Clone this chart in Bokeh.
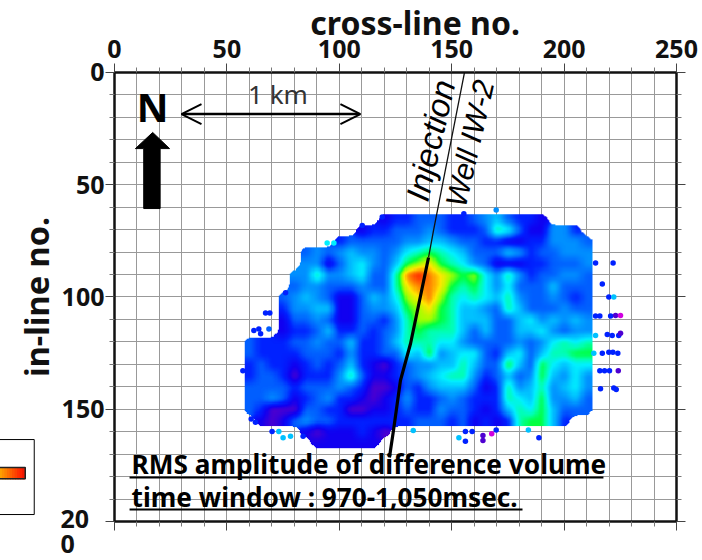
import numpy as np
from bokeh.plotting import figure
from bokeh.models import (LinearAxis, FixedTicker, Range1d, LinearColorMapper, Label, BoxAnnotation,
                          Arrow, OpenHead, ColumnDataSource, Grid)
from bokeh.core.properties import value
from bokeh.embed import file_html
from bokeh.resources import INLINE

FONT = "Noto Sans"
TICK_MAJOR = [0, 50, 100, 150, 200, 250]
TICK_MINOR = [10, 20, 30, 40, 60, 70, 80, 90, 110, 120, 130, 140, 160, 170, 180, 190, 210, 220, 230, 240]
TICK_MAJOR_Y = [0, 50, 100, 150, 200]
TICK_MINOR_Y = [10, 20, 30, 40, 60, 70, 80, 90, 110, 120, 130, 140, 160, 170, 180, 190]

# amplitude levels, one character per cross-line 50,55,...,225 ; rows are in-line 65,70,...,165
AMP_ROWS = [
    "..............122333223453221.......",
    "............12233343222376311442....",
    "..........23333344554332211224443...",
    ".......34345443467876533354233444...",
    ".......44135643589a87643111223334...",
    "......4474456337bcba9896474233443...",
    "......3443334337abba87864633" + "35333...",
    ".....345431135469ab97676574334323...",
    ".....2445511344589a87554375333433...",
    ".....1334311332479987555335645454...",
    ".....1223522323478777535335564344...",
    "..3222334335223577766433334346767...",
    "..3222233324223365845663256357788...",
    "..2322123235210234455753385386566...",
    "..2332022247311234567742353485464...",
    "..3333233343200132455531274574564...",
    "..3343123422101242234322276584453...",
    "..3200033220011232243321257685333...",
    "...1013433222222233323121278852.....",
    ".......10111210.....................",
    "........111111......................",
]
AMP_INLINES = [65, 70, 75, 80, 85, 90, 95, 100, 105, 110, 115, 120, 125, 130, 135, 140, 145, 150, 155, 160, 165]
AMP_CROSSLINE_FIRST = 50
AMP_CELL = 5

PALETTE_STOPS = ["#d000e0", "#4a00d0", "#1000f0", "#0020ff", "#0060ff", "#0090ff", "#00c0ff",
                 "#00f0ff", "#00ffb0", "#00ff40", "#a0ff00", "#ffe800", "#ff8000", "#ff2000"]

STRAY_X = [57.1, 76.1, 67.2, 69.1, 64.2, 68.7, 62, 65, 60.8, 62.7, 70.1, 73.1, 75, 78.3, 83.9, 94.6, 97.6, 110.2,
           119.1, 169.8, 155.4, 132.9, 153.2, 156.1, 156.1, 159.1, 163.9, 163.9, 167.8, 169.8, 184.1, 188.8, 214,
           221.8, 217, 219.9, 222.1, 214, 215.9, 220.7, 222.9, 225.1, 219.2, 221.4, 224.3, 225.1, 214, 213.2, 217,
           219.9, 221.7, 223.9, 215.9, 218, 220.2, 224.1, 216.2, 222.1, 223.2]
STRAY_Y = [132.9, 98.1, 107.1, 107.1, 114.2, 114.2, 114.9, 116.4, 154.3, 155.8, 159.9, 159.9, 162.7, 162, 162, 76, 76,
           68.2, 64.4, 61.2, 62.9, 159.5, 162.7, 159.9, 164.2, 159.9, 161.7, 163.9, 160.9, 159.2, 159.2, 162.7, 84.9,
           84.9, 94.2, 100, 100, 108.5, 108.5, 108.5, 108.2, 108.2, 116.7, 117.2, 117.2, 116.1, 117.2, 125.1, 125.1,
           124.6, 124.6, 125.1, 132.9, 132.9, 132.9, 132.8, 140.9, 140.5, 141.2]
STRAY_AMP = [2, 2, 2, 2, 2, 3, 2, 2, 2, 2, 2, 5, 5, 5, 2, 6, 6, 2, 2, 4, 2, 5, 5, 2, 2, 2, 0, 0, -1, 2, 5, 2, 2,
             2, 2, 2, 5, 2, 2, 2, 0, -1, 2, 2, 2, 0, 5, 5, 2, 2, 2, 2, 2, 2, 2, 0, 2, 2, 2]

WELL_THIN_X = [155.7, 141.9, 139.7]
WELL_THIN_Y = [0, 70.4, 82.4]
WELL_THICK_X = [139.7, 131.7, 127.2, 124.1, 122.3]
WELL_THICK_Y = [82.4, 120.7, 137.2, 159.5, 171.5]

LEGEND_COLORS = ["#ffa000", "#ff9000", "#ff8000", "#ff7000", "#ff6000", "#ff5000", "#ff4000", "#ff3000", "#ff2000", "#f01800"]

NORTH_X = [17, 24.5, 20.3, 20.3, 13, 13, 9.3]
NORTH_Y = [26.7, 33.9, 33.9, 60.6, 60.6, 33.9, 33.9]


def level(c):
    return np.nan if c == "." else float(int(c, 16))


amp = np.array([[level(c) for c in r.ljust(36, ".")[:36]] for r in AMP_ROWS])

# display resampling of the read grid, so the map looks as soft as the original
SUB = 10
mask = ~np.isnan(amp)
pad = lambda a: np.pad(a, 1)
xs = AMP_CROSSLINE_FIRST + AMP_CELL * np.arange(-1, amp.shape[1] + 1)
ys = np.array([AMP_INLINES[0] - AMP_CELL] + AMP_INLINES + [AMP_INLINES[-1] + AMP_CELL], dtype=float)
xf = np.arange(xs[0], xs[-1] + 1e-6, AMP_CELL / SUB)
yf = np.arange(ys[0], ys[-1] + 1e-6, AMP_CELL / SUB)


def resample(a):
    r = np.array([np.interp(xf, xs, row) for row in a])
    return np.array([np.interp(yf, ys, col) for col in r.T]).T


def soften(a, n=5):
    k = np.ones(n) / n
    a = np.apply_along_axis(lambda v: np.convolve(v, k, mode="same"), 0, a)
    return np.apply_along_axis(lambda v: np.convolve(v, k, mode="same"), 1, a)


w = soften(resample(pad(mask.astype(float))))
v = soften(resample(pad(np.where(mask, amp, 0.0))))
fine = np.where(w > 0.5, v / np.maximum(w, 1e-6), np.nan)

# the plot frame is the whole canvas, so the key and the broken "200" label can lie left of and below the axes
p = figure(width=708, height=568, output_backend="svg", toolbar_location=None,
           x_range=Range1d(-54.27, 260.68), y_range=Range1d(217.37, -35.63), x_axis_type=None, y_axis_type=None,
           min_border_left=0, min_border_right=0, min_border_top=0, min_border_bottom=0,
           margin=(-8, 0, -8, -8), outline_line_color=None)

xt = FixedTicker(ticks=TICK_MAJOR, minor_ticks=TICK_MINOR)
yt = FixedTicker(ticks=TICK_MAJOR_Y, minor_ticks=TICK_MINOR_Y)


def make_axis(ticker, bounds, loc, **kw):
    ax = LinearAxis(ticker=ticker, bounds=bounds, fixed_location=loc, **kw)
    ax.axis_line_color = "#111111"
    ax.axis_line_width = 2.5
    ax.major_tick_line_color = "#444444"
    ax.minor_tick_line_color = "#777777"
    ax.major_tick_in = 0
    ax.major_tick_out = 9
    ax.minor_tick_in = 0
    ax.minor_tick_out = 5
    ax.major_label_text_font = FONT
    ax.major_label_text_font_size = "25px"
    ax.major_label_text_font_style = "bold"
    ax.major_label_text_color = "#111111"
    ax.axis_label_text_font = FONT
    ax.axis_label_text_font_size = "32.5px"
    ax.axis_label_text_font_style = "bold"
    ax.axis_label_text_color = "#111111"
    return ax


top = make_axis(xt, (0, 250), 0, major_label_standoff=5)
left = make_axis(yt, (0, 200), 0, axis_label="in-line no.", major_label_standoff=1, axis_label_standoff=0,
                 major_label_overrides={200: ""})
right = make_axis(yt, (0, 200), 250, major_label_overrides={t: "" for t in TICK_MAJOR_Y}, major_label_standoff=0)
bottom = make_axis(xt, (0, 250), 200, major_label_overrides={t: "" for t in TICK_MAJOR}, major_label_standoff=0)
p.add_layout(top, "above")
p.add_layout(left, "left")
p.add_layout(right, "right")
p.add_layout(bottom, "below")
p.add_layout(Label(x=133.7, y=-22.3, text="cross-line no.", text_font=FONT, text_font_size="32px", text_font_style="bold",
                   text_align="center", text_baseline="middle", text_color="#111111"))

for dim, t, b in ((0, xt, (0, 200)), (1, yt, (0, 250))):
    p.add_layout(Grid(dimension=dim, ticker=t, cross_bounds=b, grid_line_color="#999999", grid_line_width=1,
                      minor_grid_line_color="#999999", minor_grid_line_width=1))

stops = np.array([[int(c[i:i + 2], 16) for i in (1, 3, 5)] for c in PALETTE_STOPS], dtype=float)
pos = np.linspace(0, 1, len(stops))
palette = ["#%02x%02x%02x" % tuple(int(round(np.interp(t, pos, stops[:, k]))) for k in range(3))
           for t in np.linspace(0, 1, 256)]
mapper = LinearColorMapper(palette=palette, low=-1, high=12, nan_color=(0, 0, 0, 0))
p.image(image=[fine], x=xf[0], y=yf[0], dw=xf[-1] - xf[0], dh=yf[-1] - yf[0], color_mapper=mapper)

stray_src = ColumnDataSource(dict(x=STRAY_X, y=STRAY_Y, a=STRAY_AMP))
p.scatter("x", "y", source=stray_src, size=5.5, line_color=None,
          fill_color={"field": "a", "transform": mapper})

p.line(WELL_THIN_X, WELL_THIN_Y, line_color="#111111", line_width=1.3)
p.line(WELL_THICK_X, WELL_THICK_Y, line_color="#000000", line_width=3.2)

p.patch(NORTH_X, NORTH_Y, fill_color="#000000", line_color="#000000")
p.text([17], [15], text=["N"], text_font=value(FONT), text_font_style="bold", text_font_size="39px",
       text_align="center", text_baseline="middle", text_color="#000000")

p.add_layout(Arrow(start=OpenHead(size=20, line_width=2), end=OpenHead(size=20, line_width=2),
                   x_start=29.8, y_start=18.5, x_end=109.4, y_end=18.5, line_width=2.5, line_color="#000000"))
p.text([72.7], [9.5], text=["1 km"], text_font=value(FONT), text_font_size="26px",
       text_align="center", text_baseline="middle", text_color="#333333")

p.text([140.6], [30.3], text=["Injection"], angle=[77], angle_units="deg", text_font=value("Liberation Sans"),
       text_font_style="italic", text_font_size="33px", text_align="center", text_baseline="middle", text_color="#000000")
p.text([158], [31.6], text=["Well IW-2"], angle=[77], angle_units="deg", text_font=value("Liberation Sans"),
       text_font_style="italic", text_font_size="30px", text_align="center", text_baseline="middle", text_color="#000000")

p.text([7.6], [174.3], text=["RMS amplitude of difference volume"], text_font=value(FONT), text_font_style="bold",
       text_font_size="26.2px", text_align="left", text_baseline="middle", text_color="#000000")
p.text([7.6], [189.3], text=["time window : 970-1,050msec."], text_font=value(FONT), text_font_style="bold",
       text_font_size="26.2px", text_align="left", text_baseline="middle", text_color="#000000")
p.segment([6.7, 6.7], [180.4, 194.7], [217.5, 181.5], [180.4, 194.7], line_color="#000000", line_width=2)

for txt, ypos in (("20", 198.7), ("0", 210)):
    p.add_layout(Label(x=-24, y=ypos, text=txt, text_font=FONT, text_font_size="25px", text_font_style="bold",
                       text_align="left", text_baseline="middle", text_color="#111111"))

# colour key, cut by the left edge of the page
p.add_layout(BoxAnnotation(left=-56, right=-35.7, top=163.5, bottom=196.9, fill_color="#ffffff", fill_alpha=1,
                           line_color="#000000", line_width=1, line_alpha=1))
n = len(LEGEND_COLORS)
bar_l, bar_r = -51, -39.7
for i, c in enumerate(LEGEND_COLORS):
    p.add_layout(BoxAnnotation(left=bar_l + (bar_r - bar_l) * i / n, right=min(bar_r, bar_l + (bar_r - bar_l) * (i + 1) / n + 0.4),
                               top=176, bottom=181, fill_color=c, fill_alpha=1, line_color=c, line_width=1, line_alpha=1))
p.add_layout(BoxAnnotation(left=-56, right=bar_r, top=176, bottom=181, fill_alpha=0,
                           line_color="#222222", line_width=1.5, line_alpha=1))

open("out.html", "w").write(file_html(p, INLINE))
